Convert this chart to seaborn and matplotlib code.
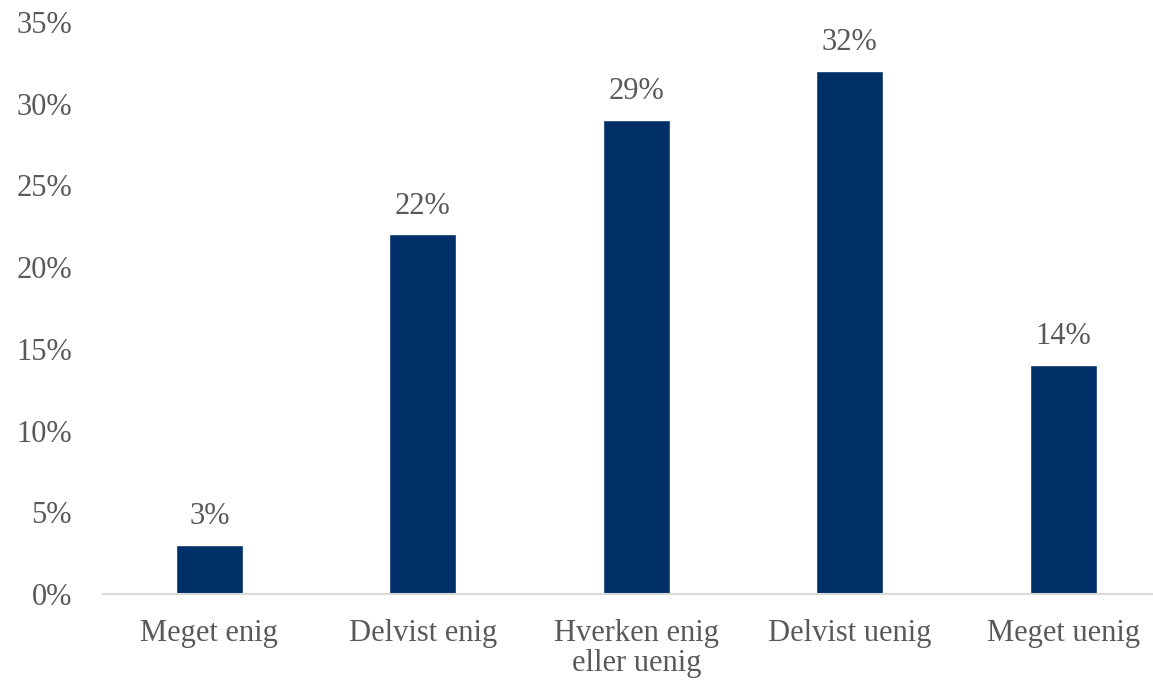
import matplotlib
matplotlib.use('Agg')
import matplotlib.pyplot as plt
import seaborn as sns
import pandas as pd

categories = ['Meget enig', 'Delvist enig', 'Hverken enig\neller uenig', 'Delvist uenig', 'Meget uenig']
values = [3, 22, 29, 32, 14]
y_ticks = [0, 5, 10, 15, 20, 25, 30, 35]

sns.set_theme(style='white')
plt.rcParams['font.family'] = ['Liberation Serif', 'DejaVu Serif']

text_color = '#595959'
bar_color = '#003068'

df = pd.DataFrame({'kategori': categories, 'andel': values})

fig = plt.figure(figsize=(11.53, 6.86), dpi=100)
ax = fig.add_axes([0.089, 0.134, 0.911, 0.834])
sns.barplot(data=df, x='kategori', y='andel', color=bar_color, width=0.315, saturation=1, ax=ax)

for i, v in enumerate(values):
    ax.annotate(f'{v}%', (i, v), xytext=(0, 10), textcoords='offset points',
                ha='center', va='bottom', fontsize=22, color=text_color)

ax.set_ylim(0, 35)
ax.set_xlim(-0.5, 4.42)
ax.set_yticks(y_ticks)
ax.set_yticklabels([f'{t}%' for t in y_ticks])
ax.set_xlabel('')
ax.set_ylabel('')
ax.tick_params(axis='both', length=0, labelsize=22, colors=text_color)
ax.tick_params(axis='x', pad=18)
ax.tick_params(axis='y', pad=22)
for lbl in ax.get_xticklabels():
    lbl.set_linespacing(1.05)

for side in ['top', 'right', 'left']:
    ax.spines[side].set_visible(False)
ax.spines['bottom'].set_color('#d9d9d9')
ax.spines['bottom'].set_linewidth(1.5)

fig.savefig('out.png', dpi=100)
plt.close(fig)
